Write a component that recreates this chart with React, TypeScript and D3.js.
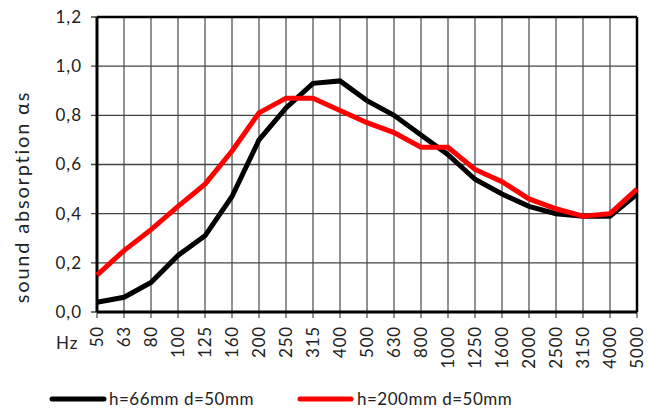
import * as d3 from "d3";
import React from "react";

// frequency bands (Hz)
const freqs = ["50", "63", "80", "100", "125", "160", "200", "250", "315", "400", "500", "630", "800", "1000", "1250", "1600", "2000", "2500", "3150", "4000", "5000"];
// h=66mm d=50mm
const seriesA = [0.04, 0.06, 0.12, 0.23, 0.31, 0.47, 0.70, 0.83, 0.93, 0.94, 0.86, 0.80, 0.72, 0.64, 0.54, 0.48, 0.43, 0.40, 0.39, 0.39, 0.48];
// h=200mm d=50mm
const seriesB = [0.15, 0.25, 0.335, 0.43, 0.52, 0.655, 0.81, 0.87, 0.87, 0.82, 0.77, 0.73, 0.67, 0.67, 0.58, 0.53, 0.46, 0.42, 0.39, 0.40, 0.50];
const yTicks = [0, 0.2, 0.4, 0.6, 0.8, 1.0, 1.2];
const legendLabels = ["h=66mm d=50mm", "h=200mm d=50mm"];

const W = 658, H = 409;
const margin = { top: 17, right: 21, bottom: 97, left: 97 };
const font = "Lato, 'Open Sans', sans-serif";

export default function App() {
  const x = d3.scalePoint<string>().domain(freqs).range([margin.left, W - margin.right]);
  const y = d3.scaleLinear().domain([0, 1.2]).range([H - margin.bottom, margin.top]);
  const fmt = (v: number) => d3.format(".1f")(v).replace(".", ",");
  const line = d3.line<number>().x((d, i) => x(freqs[i]) as number).y(d => y(d));

  const left = margin.left, right = W - margin.right;
  const top = margin.top, bottom = H - margin.bottom;

  return (
    <svg width={W} height={H} style={{ position: "absolute", left: 0, top: 0 }} fontFamily={font}>
      <rect width={W} height={H} fill="#fff" />
      {/* grid */}
      {freqs.map(f => (
        <line key={"gx" + f} x1={x(f)} x2={x(f)} y1={top} y2={bottom + 6} stroke="#555" strokeWidth={1.3} />
      ))}
      {yTicks.map(t => (
        <line key={"gy" + t} x1={left - 6} x2={right} y1={y(t)} y2={y(t)} stroke="#444" strokeWidth={1.3} />
      ))}
      {/* frame */}
      <line x1={left} x2={right} y1={top} y2={top} stroke="#000" strokeWidth={2.5} />
      <line x1={right} x2={right} y1={top} y2={bottom} stroke="#000" strokeWidth={2.5} />
      <line x1={left} x2={left} y1={top} y2={bottom} stroke="#000" strokeWidth={3} />
      <line x1={left} x2={right} y1={bottom} y2={bottom} stroke="#000" strokeWidth={3} />

      {/* series */}
      <path d={line(seriesA) || ""} fill="none" stroke="#000" strokeWidth={5} strokeLinejoin="miter" />
      <path d={line(seriesB) || ""} fill="none" stroke="#ff0000" strokeWidth={5} strokeLinejoin="miter" />

      {/* y tick labels */}
      {yTicks.map(t => (
        <text key={"ty" + t} x={left - 15} y={y(t)} dy="0.35em" textAnchor="end" fontSize={17} letterSpacing={1} fill="#222">
          {fmt(t)}
        </text>
      ))}
      {/* x tick labels */}
      {freqs.map(f => (
        <text key={"tx" + f} transform={`translate(${(x(f) as number) + 6},${bottom + 14}) rotate(-90)`}
          textAnchor="end" fontSize={17} letterSpacing={0.8} fill="#222">
          {f}
        </text>
      ))}
      <text x={56} y={349} fontSize={17} letterSpacing={1} fill="#222">Hz</text>

      {/* axis title */}
      <text transform={`translate(29,197) rotate(-90)`} textAnchor="middle" fontSize={20} letterSpacing={1.8} fill="#222">
        sound absorption αs
      </text>

      {/* legend */}
      <line x1={52} x2={104} y1={399} y2={399} stroke="#000" strokeWidth={5} strokeLinecap="round" />
      <text x={109} y={405} fontSize={17} letterSpacing={0.5} fill="#222">{legendLabels[0]}</text>
      <line x1={300} x2={351} y1={399} y2={399} stroke="#ff0000" strokeWidth={5} strokeLinecap="round" />
      <text x={357} y={405} fontSize={17} letterSpacing={0.5} fill="#222">{legendLabels[1]}</text>
    </svg>
  );
}
